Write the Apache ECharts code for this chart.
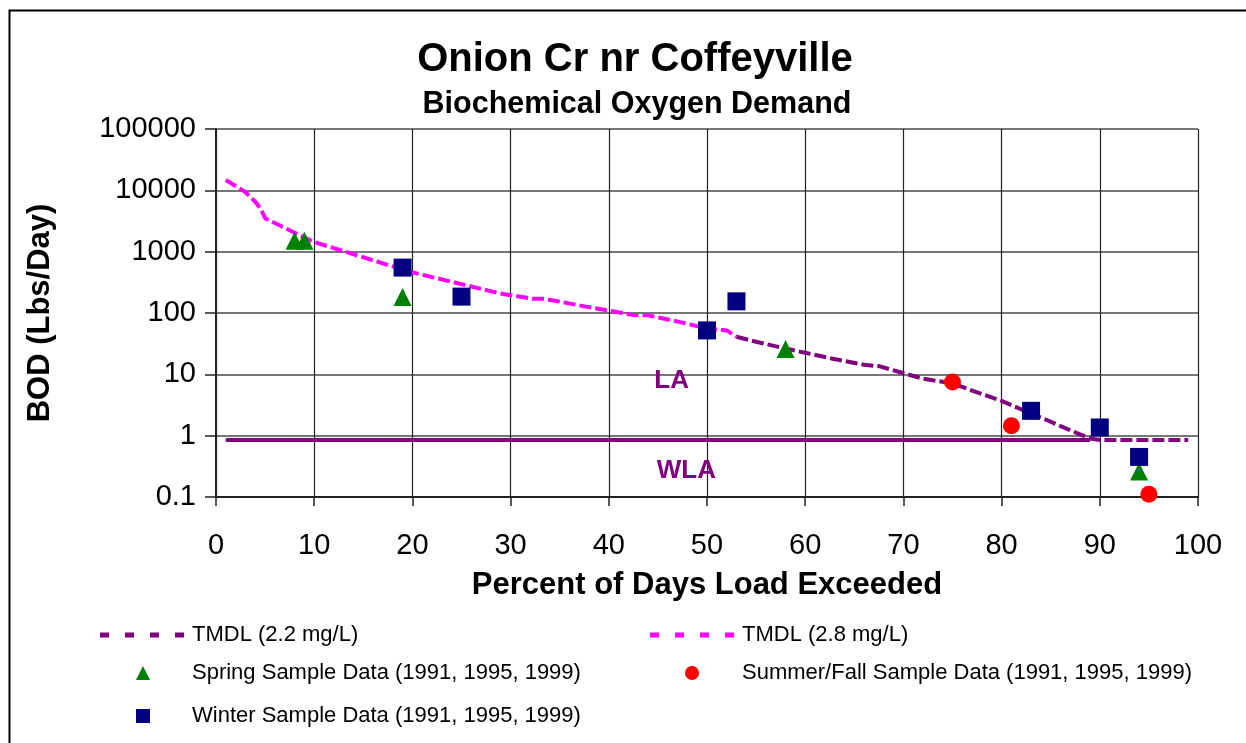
<!DOCTYPE html>
<html>
<head>
<meta charset="utf-8">
<script src="https://cdn.jsdelivr.net/npm/echarts@6/dist/echarts.min.js"></script>
<style>
  html, body { margin: 0; padding: 0; background: #fff; }
  #chart { width: 1246px; height: 743px; }
</style>
</head>
<body>
<div id="chart"></div>
<script>
// TMDL 2.8 mg/L (magenta), percent exceeded -> lbs/day
const tmdl28Pct = [1, 2.95, 3.46, 4.14, 4.65, 5, 9.9, 19.75, 28.9, 32.3, 33.5, 37.8, 42.5, 44, 47.6, 50, 52, 53];
const tmdl28Load = [14700, 9500, 7900, 6150, 4650, 3500, 1450, 470, 209, 170, 170, 126, 93, 92, 69, 56, 52, 41];

// TMDL 2.2 mg/L (purple)
const tmdl22Pct = [53, 55, 57.7, 60, 62.8, 66, 67.6, 69.7, 72, 75, 77.8, 80, 82.2, 84.6, 86.6, 89, 90, 99];
const tmdl22Load = [41, 34, 27, 22.5, 18, 14.3, 13.5, 10.8, 8.5, 7.1, 4.9, 3.7, 2.6, 1.8, 1.3, 0.9, 0.85, 0.85];

// WLA solid line
const wlaPct = [1, 89];
const wlaLoad = [0.85, 0.85];

// sample data
const springPct = [8, 9, 19, 58, 94];
const springLoad = [1500, 1500, 182, 26, 0.26];
const summerPct = [75, 81, 95];
const summerLoad = [7.5, 1.45, 0.111];
const winterPct = [19, 25, 50, 53, 83, 90, 94];
const winterLoad = [550, 185, 52, 155, 2.54, 1.36, 0.45];

// labels in plot
const noteNames = ["LA", "WLA"];
const notePct = [46.4, 47.9];
const noteLoad = [7.7, 0.27];

const yTickLabels = ["0.1", "1", "10", "100", "1000", "10000", "100000"];

const pairs = (xs, ys) => xs.map((x, i) => [x, ys[i]]);

const FONT = "Liberation Sans";
const PURPLE = "#800080";
const MAGENTA = "#FF00FF";

// dashed line icon for the legend (4 dashes)
const dashIcon = "path://M0,0h9v5h-9z M25,0h9v5h-9z M50,0h9v5h-9z M75,0h9v5h-9z";

let legendText = { fontFamily: FONT, fontSize: 22, lineHeight: 20, color: "#000" };

let myChart = echarts.init(document.getElementById("chart"));

let option = {
  backgroundColor: "#fff",
  animation: false,
  title: [
    {
      text: "Onion Cr nr Coffeyville",
      left: 630,
      top: 35,
      textAlign: "center",
      textStyle: { fontFamily: FONT, fontSize: 40, fontWeight: "bold", color: "#000" }
    },
    {
      text: "Biochemical Oxygen Demand",
      left: 632,
      top: 84,
      textAlign: "center",
      textStyle: { fontFamily: FONT, fontSize: 30.5, fontWeight: "bold", color: "#000" }
    }
  ],
  graphic: [
    {
      type: "rect",
      shape: { x: 9.5, y: 10.5, width: 1400, height: 900 },
      style: { fill: "none", stroke: "#000", lineWidth: 2 },
      silent: true
    }
  ],
  legend: [
    {
      left: 100,
      top: 624,
      padding: 0,
      itemWidth: 84,
      itemHeight: 5,
      symbolKeepAspect: false,
      textStyle: Object.assign({}, legendText, { padding: [0, 0, 0, 3] }),
      data: [{ name: "TMDL (2.2 mg/L)", icon: dashIcon }]
    },
    {
      orient: "vertical",
      left: 136,
      top: 662,
      padding: 0,
      itemWidth: 14,
      itemHeight: 14,
      itemGap: 21,
      textStyle: Object.assign({}, legendText, { padding: [0, 0, 0, 37] }),
      data: [
        { name: "Spring Sample Data (1991, 1995, 1999)", icon: "triangle" },
        { name: "Winter Sample Data (1991, 1995, 1999)", icon: "rect" }
      ]
    },
    {
      left: 650,
      top: 624,
      padding: 0,
      itemWidth: 84,
      itemHeight: 5,
      symbolKeepAspect: false,
      textStyle: Object.assign({}, legendText, { padding: [0, 0, 0, 3] }),
      data: [{ name: "TMDL (2.8 mg/L)", icon: dashIcon }]
    },
    {
      left: 685,
      top: 662,
      padding: 0,
      itemWidth: 14,
      itemHeight: 14,
      textStyle: Object.assign({}, legendText, { padding: [0, 0, 0, 38] }),
      data: [{ name: "Summer/Fall Sample Data (1991, 1995, 1999)", icon: "circle" }]
    }
  ],
  grid: {
    left: 216,
    top: 129,
    right: 48,
    bottom: 246
  },
  xAxis: {
    type: "value",
    min: 0,
    max: 100,
    interval: 10,
    name: "Percent of Days Load Exceeded",
    nameLocation: "middle",
    nameGap: 73,
    nameTextStyle: { fontFamily: FONT, fontSize: 31, fontWeight: "bold", color: "#000" },
    axisLine: { lineStyle: { color: "#222", width: 2 } },
    axisTick: { show: true, length: 9, lineStyle: { color: "#222", width: 1.5 } },
    axisLabel: { margin: 34, fontFamily: FONT, fontSize: 29, color: "#000" },
    splitLine: { show: true, lineStyle: { color: "#222", width: 1.2 } }
  },
  yAxis: {
    type: "log",
    logBase: 10,
    min: 0.1,
    max: 100000,
    name: "BOD (Lbs/Day)",
    nameLocation: "middle",
    nameGap: 160,
    nameTextStyle: { fontFamily: FONT, fontSize: 31, fontWeight: "bold", color: "#000" },
    axisLine: { show: true, lineStyle: { color: "#222", width: 2 } },
    axisTick: { show: true, length: 11, lineStyle: { color: "#222", width: 1.5 } },
    axisLabel: {
      margin: 20,
      fontFamily: FONT,
      fontSize: 29,
      color: "#000",
      formatter: function (v) {
        return yTickLabels[Math.round(Math.log10(v)) + 1];
      }
    },
    splitLine: { show: true, lineStyle: { color: "#777", width: 2 } }
  },
  series: [
    {
      name: "WLA",
      type: "line",
      data: pairs(wlaPct, wlaLoad),
      symbol: "none",
      lineStyle: { color: PURPLE, width: 4 },
      z: 2
    },
    {
      name: "TMDL (2.2 mg/L)",
      type: "line",
      data: pairs(tmdl22Pct, tmdl22Load),
      symbol: "none",
      color: PURPLE,
      lineStyle: { color: PURPLE, width: 4, type: [12, 4] },
      z: 3
    },
    {
      name: "TMDL (2.8 mg/L)",
      type: "line",
      data: pairs(tmdl28Pct, tmdl28Load),
      symbol: "none",
      color: MAGENTA,
      lineStyle: { color: MAGENTA, width: 4, type: [12, 4] },
      z: 3
    },
    {
      name: "Spring Sample Data (1991, 1995, 1999)",
      type: "scatter",
      data: pairs(springPct, springLoad),
      symbol: "triangle",
      symbolSize: 18,
      itemStyle: { color: "#008000", opacity: 1 },
      z: 4
    },
    {
      name: "Summer/Fall Sample Data (1991, 1995, 1999)",
      type: "scatter",
      data: pairs(summerPct, summerLoad),
      symbol: "circle",
      symbolSize: 17,
      itemStyle: { color: "#FF0000", opacity: 1 },
      z: 4
    },
    {
      name: "Winter Sample Data (1991, 1995, 1999)",
      type: "scatter",
      data: pairs(winterPct, winterLoad),
      symbol: "rect",
      symbolSize: 18,
      itemStyle: { color: "#000080", opacity: 1 },
      z: 5
    },
    {
      name: "notes",
      type: "scatter",
      data: pairs(notePct, noteLoad),
      symbolSize: 0,
      silent: true,
      itemStyle: { opacity: 1 },
      label: {
        show: true,
        position: "inside",
        formatter: function (p) { return noteNames[p.dataIndex]; },
        fontFamily: FONT,
        fontSize: 26,
        fontWeight: "bold",
        color: PURPLE
      },
      z: 6
    }
  ]
};

myChart.setOption(option);
</script>
</body>
</html>
